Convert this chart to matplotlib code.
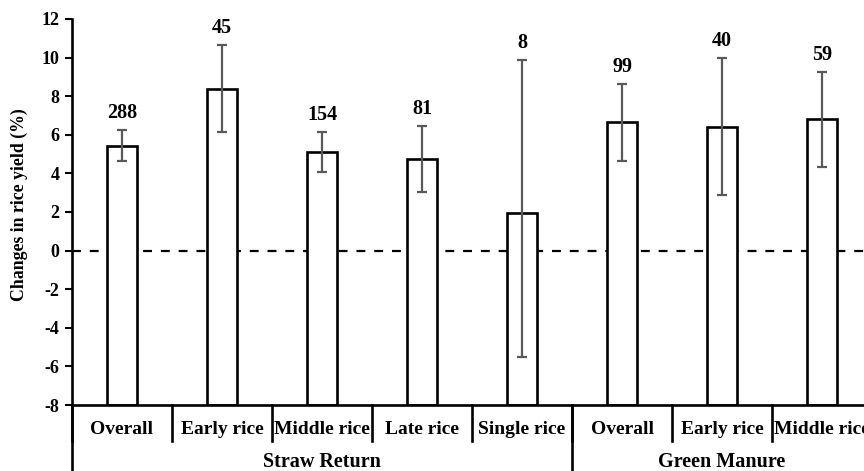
import matplotlib
matplotlib.use("Agg")
import matplotlib.pyplot as plt
from matplotlib.transforms import blended_transform_factory

# yield response by rice season
categories = ["Overall", "Early rice", "Middle rice", "Late rice", "Single rice",
              "Overall", "Early rice", "Middle rice"]
groups = ["Straw Return", "Green Manure"]
group_sizes = [5, 3]
mean_change = [5.42, 8.36, 5.13, 4.73, 1.95, 6.65, 6.39, 6.82]
ci_low = [4.66, 6.16, 4.09, 3.05, -5.50, 4.66, 2.88, 4.35]
ci_high = [6.24, 10.65, 6.16, 6.46, 9.88, 8.63, 10.0, 9.27]
n_obs = [288, 45, 154, 81, 8, 99, 40, 59]

Y_MIN, Y_MAX = -8, 12
FONT = "Liberation Serif"

plt.rcParams["font.family"] = FONT
plt.rcParams["font.weight"] = "bold"
plt.rcParams["axes.unicode_minus"] = False

fig = plt.figure(figsize=(8.64, 4.71), dpi=100)
ax = fig.add_axes([0.0833, 0.1401, 0.926, 0.8196])

x = list(range(len(categories)))
heights = [m - Y_MIN for m in mean_change]
ax.bar(x, heights, bottom=Y_MIN, width=0.3, facecolor="white",
       edgecolor="black", linewidth=1.9, zorder=2)

yerr = [[m - lo for m, lo in zip(mean_change, ci_low)],
        [hi - m for m, hi in zip(mean_change, ci_high)]]
ax.errorbar(x, mean_change, yerr=yerr, fmt="none", ecolor="#595959",
            elinewidth=1.6, capsize=3.5, capthick=1.6, zorder=3)

for xi, hi, n in zip(x, ci_high, n_obs):
    ax.text(xi, hi + 0.35, str(n), ha="center", va="bottom",
            fontsize=14.5, fontweight="bold")

ax.axhline(0, color="black", linestyle=(0, (4, 4)), linewidth=1.6, zorder=1)

ax.set_xlim(-0.5, len(categories) - 0.5)
ax.set_ylim(Y_MIN, Y_MAX)
ax.set_yticks(range(Y_MIN, Y_MAX + 1, 2))
ax.set_xticks([])
ax.tick_params(axis="y", direction="out", length=5, width=1.5,
               labelsize=13, pad=4)
for lbl in ax.get_yticklabels():
    lbl.set_fontweight("bold")
for side in ["top", "right"]:
    ax.spines[side].set_visible(False)
for side in ["left", "bottom"]:
    ax.spines[side].set_linewidth(1.9)

ax.set_ylabel("Changes in rice yield (%)", fontsize=12.8, fontweight="bold")
ax.yaxis.set_label_coords(-0.055, 0.52)

# two-level category axis below the plot
trans = blended_transform_factory(ax.transData, ax.transAxes)
row_bottom = -0.092
group_bottom = -0.2
for xi, name in zip(x, categories):
    ax.text(xi, -0.064, name, transform=trans, ha="center", va="center",
            fontsize=14, fontweight="bold")
for b in range(len(categories) + 1):
    xb = b - 0.5
    ax.plot([xb, xb], [0, row_bottom], transform=trans, color="black",
            linewidth=1.9, clip_on=False)

start = 0
ax.plot([-0.5, -0.5], [0, group_bottom], transform=trans, color="black",
        linewidth=1.9, clip_on=False)
for g, size in zip(groups, group_sizes):
    end = start + size
    ax.text((start + end - 1) / 2, -0.148, g, transform=trans, ha="center",
            va="center", fontsize=14.5, fontweight="bold")
    ax.plot([end - 0.5, end - 0.5], [0, group_bottom], transform=trans,
            color="black", linewidth=1.9, clip_on=False)
    start = end

fig.savefig("out.png", dpi=100)
